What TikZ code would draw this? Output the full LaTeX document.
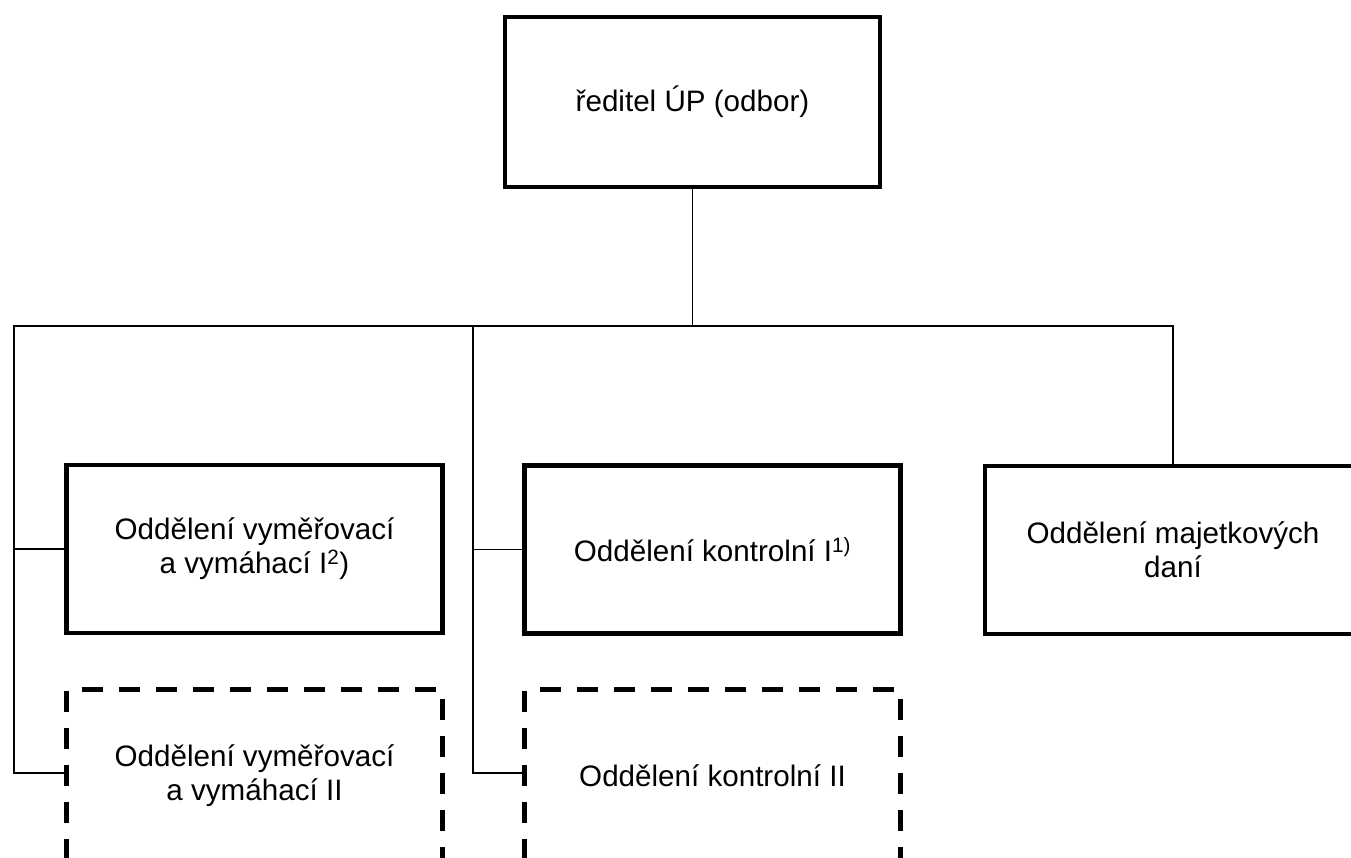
\documentclass[tikz,border=0pt]{standalone}
\usepackage{fontspec}
\setmainfont{Liberation Sans}
\begin{document}
\begin{tikzpicture}[x=1pt,y=-1pt,
  unit/.style={draw=black, line width=4.5pt, minimum width=376pt, minimum height=168pt,
    inner sep=0pt, align=center, font=\fontsize{29.6}{34}\selectfont},
  planned/.style={unit, dash pattern=on 21pt off 16pt, line width=5pt, minimum height=172pt},
  link/.style={draw=black, line width=1.8pt}]
\clip (0,0) rectangle (1351,857);
\fill[white] (0,0) rectangle (1351,857);
\node[unit, minimum width=375pt, minimum height=170pt] (top) at (692.5,102) {ředitel ÚP (odbor)};
\node[unit] (b1) at (254.5,549) {Oddělení vyměřovací\\a vymáhací I\textsuperscript{2})};
\node[planned] (b2) at (254.5,775.5) {Oddělení vyměřovací\\a vymáhací II};
\node[unit] (b3) at (712.5,549.5) {Oddělení kontrolní I\textsuperscript{1)}};
\node[planned] (b4) at (712.5,775.5) {Oddělení kontrolní II};
\node[unit] (b5) at (1173,550) {Oddělení majetkových\\daní};
\coordinate (L) at (14,326);
\coordinate (M) at (473,326);
\coordinate (hub) at (692.5,326);
\draw[link] (top.south) -- (hub) -| (b5.north);
\draw[link] (hub) -- (L) |- ([yshift=2.5pt]b2.west);
\draw[link] (L |- b1.west) -- (b1.west);
\draw[link] (M) |- ([yshift=2.5pt]b4.west);
\draw[link] (M |- b3.west) -- (b3.west);
\end{tikzpicture}
\end{document}
